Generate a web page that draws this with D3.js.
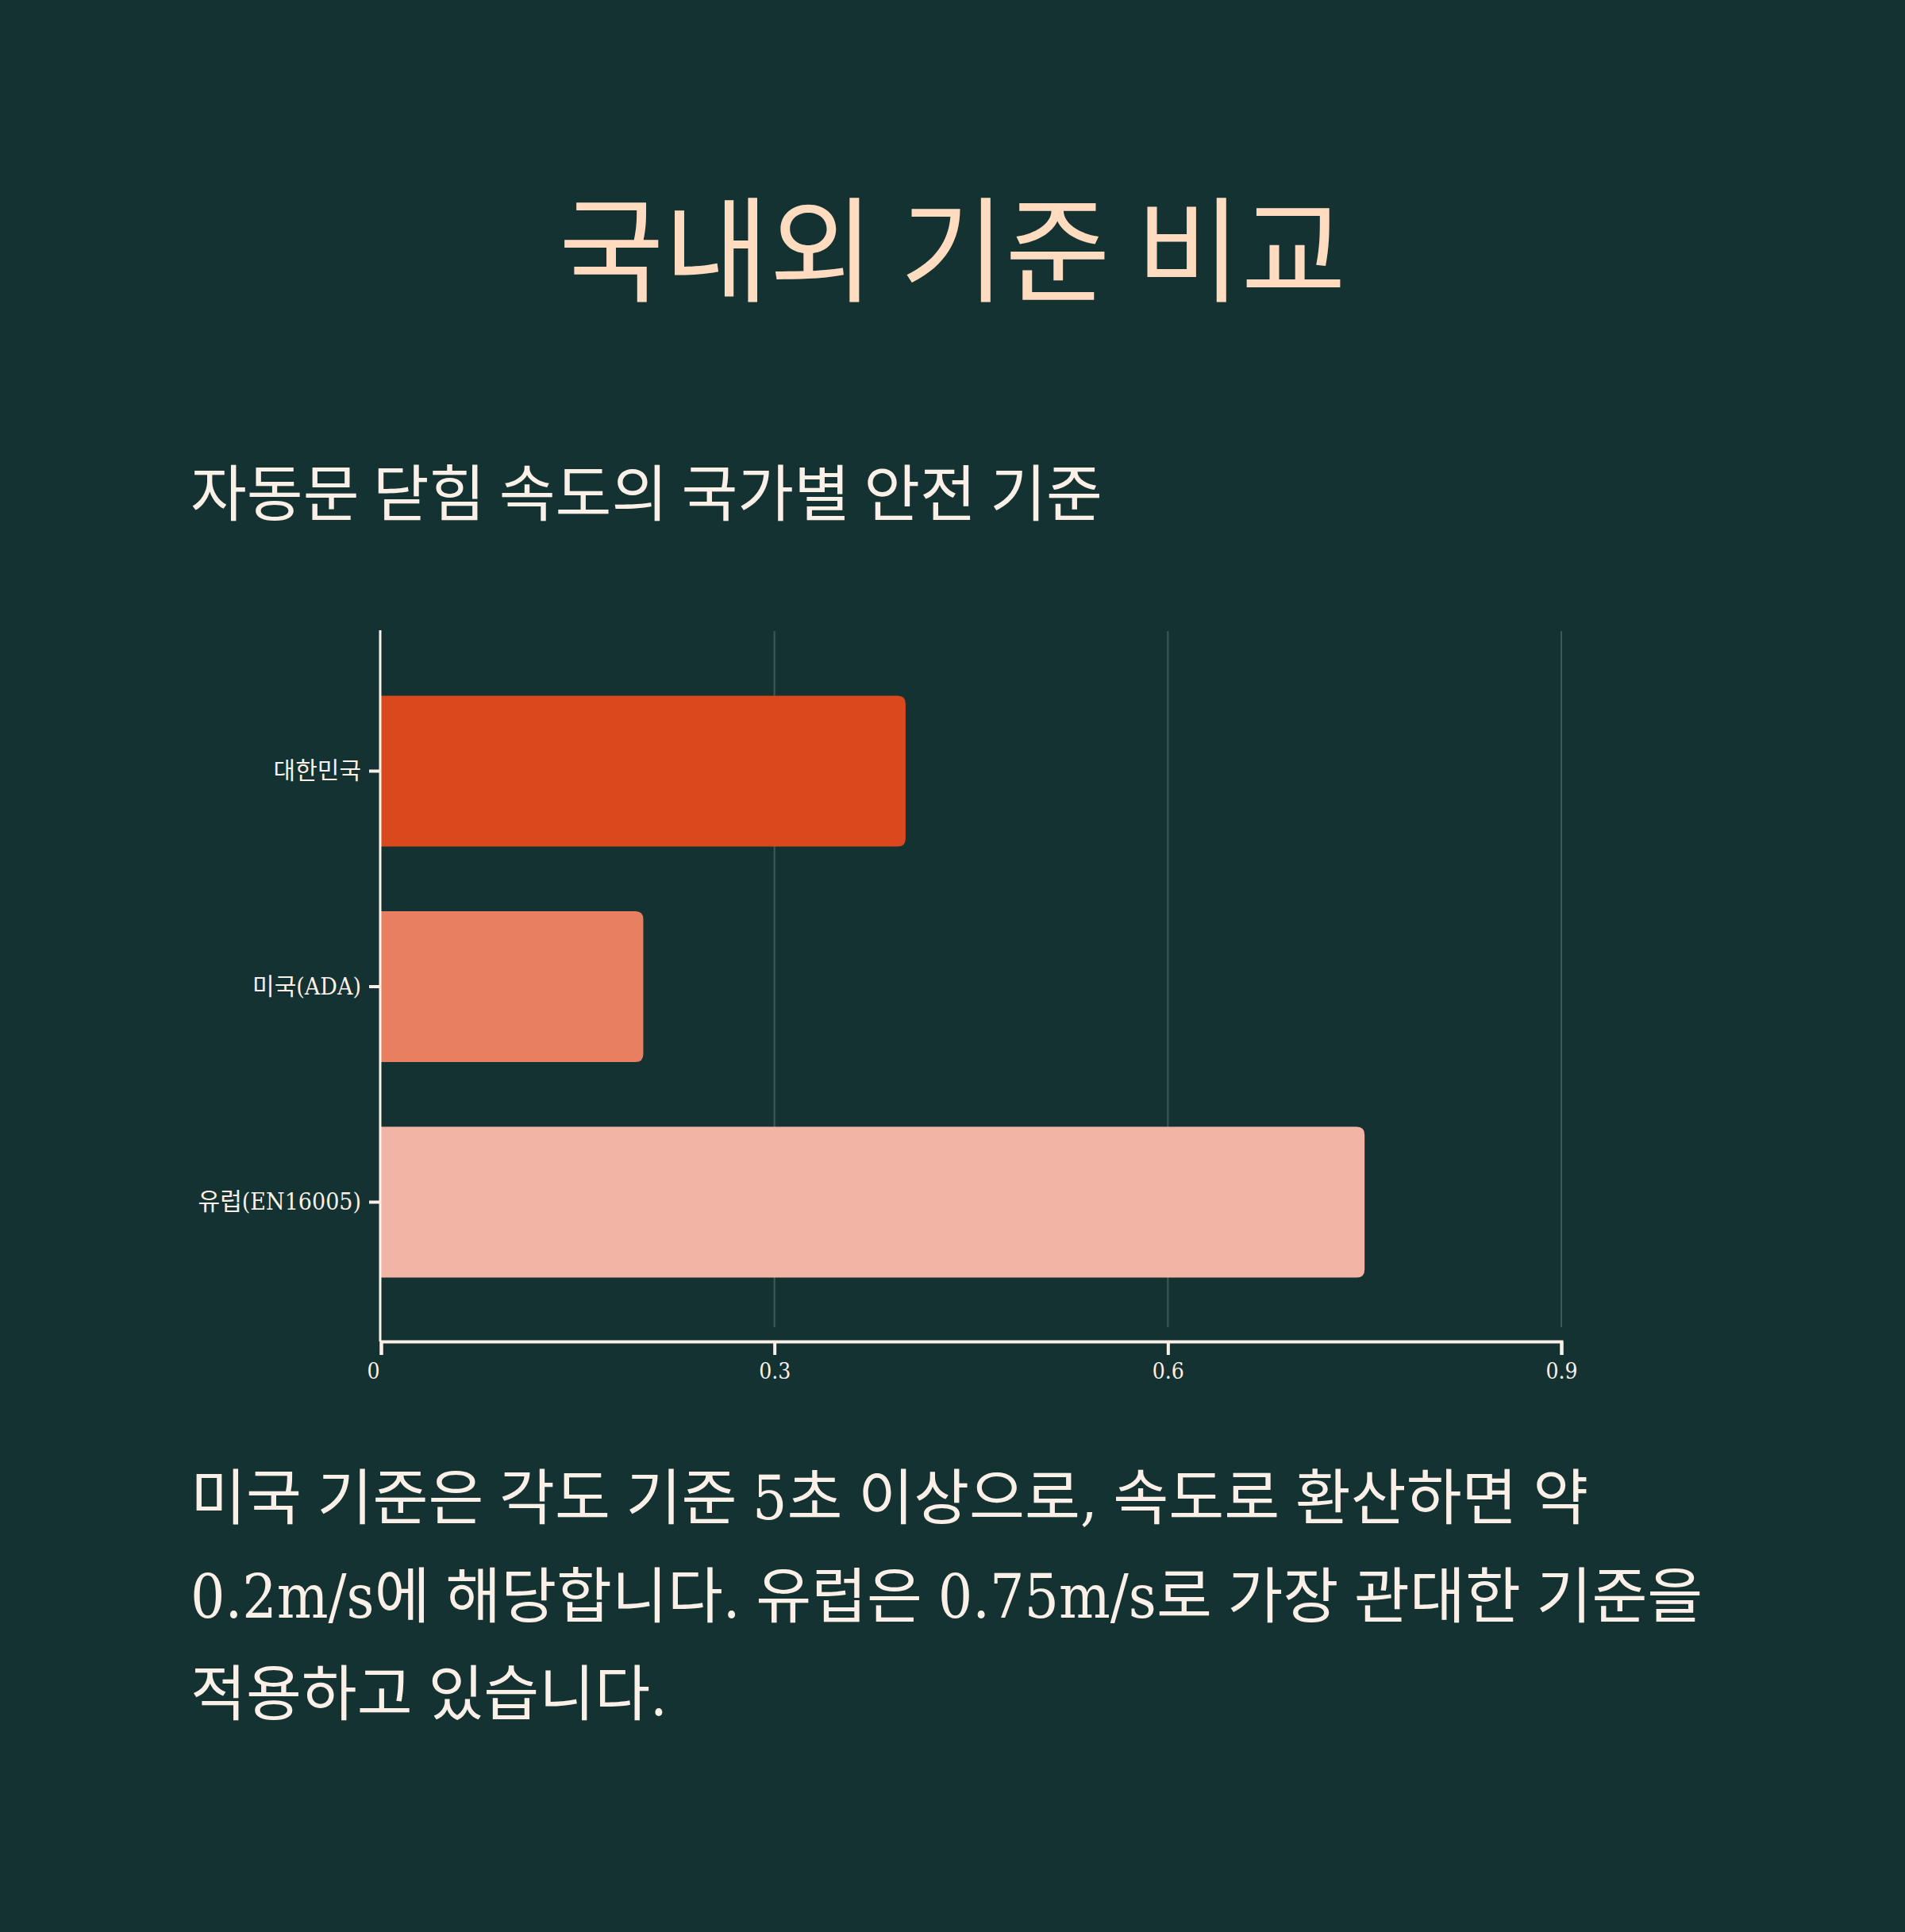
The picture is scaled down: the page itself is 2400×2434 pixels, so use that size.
<!DOCTYPE html>
<html>
<head>
<meta charset="utf-8">
<script src="https://cdn.jsdelivr.net/npm/d3@7"></script>
<style>
  html, body { margin: 0; padding: 0; background: #143231; }
  svg { display: block; }
</style>
</head>
<body>
<svg id="chart"></svg>
<script>
// chart values
const countries = ["대한민국", "미국(ADA)", "유럽(EN16005)"];
const speeds = [0.4, 0.2, 0.75];
const barColors = ["#DA491E", "#E97F61", "#F2B4A4"];
const xTicks = [0, 0.3, 0.6, 0.9];

const titleText = "국내외 기준 비교";
const subtitleText = "자동문 닫힘 속도의 국가별 안전 기준";
const noteLines = [
    "미국 기준은 각도 기준 5초 이상으로, 속도로 환산하면 약",
    "0.2m/s에 해당합니다. 유럽은 0.75m/s로 가장 관대한 기준을",
    "적용하고 있습니다."
];

const width = 2400, height = 2434;
const cream = "#FAF0E8";
const bodyFont = "'DejaVu Serif', 'Noto Sans CJK KR', serif";
const krFont = "'Noto Sans CJK KR', sans-serif";

const svg = d3.select("#chart")
    .attr("width", width)
    .attr("height", height);

svg.append("rect")
    .attr("width", width)
    .attr("height", height)
    .attr("fill", "#143231");

// title + subtitle
svg.append("text")
    .attr("x", width / 2)
    .attr("y", 369)
    .attr("text-anchor", "middle")
    .style("font-family", krFont)
    .style("font-size", "144px")
    .attr("fill", "#FFDBBF")
    .text(titleText);

svg.append("text")
    .attr("x", 240)
    .attr("y", 650)
    .style("font-family", krFont)
    .style("font-size", "77px")
    .attr("fill", cream)
    .text(subtitleText);

// scales
const x = d3.scaleLinear()
    .domain([0, 0.9])
    .range([480, 1967]);

const y = d3.scaleBand()
    .domain(countries)
    .range([795, 1691])
    .padding(0.3);

// grid lines
svg.append("g")
    .selectAll("line")
    .data(xTicks.filter(d => d > 0))
    .join("line")
    .attr("x1", d => x(d))
    .attr("x2", d => x(d))
    .attr("y1", 795)
    .attr("y2", 1672)
    .attr("stroke", "#3E5A58")
    .attr("stroke-width", 2);

// bars, right side rounded
function barPath(x0, x1, y0, h, r) {
    return "M" + x0 + "," + y0 +
        "H" + (x1 - r) +
        "Q" + x1 + "," + y0 + " " + x1 + "," + (y0 + r) +
        "V" + (y0 + h - r) +
        "Q" + x1 + "," + (y0 + h) + " " + (x1 - r) + "," + (y0 + h) +
        "H" + x0 + "Z";
}

svg.append("g")
    .selectAll("path")
    .data(countries)
    .join("path")
    .attr("d", (d, i) => barPath(x(0), x(speeds[i]), y(d), y.bandwidth(), 10))
    .attr("fill", (d, i) => barColors[i]);

// x axis
const xAxis = d3.axisBottom(x)
    .tickValues(xTicks)
    .tickSize(17)
    .tickPadding(10)
    .tickFormat(d => d === 0 ? "0" : d3.format(".1f")(d));

const xg = svg.append("g")
    .attr("transform", "translate(0,1690)")
    .call(xAxis);
xg.select(".domain").attr("stroke", cream).attr("stroke-width", 4);
xg.selectAll(".tick line").attr("stroke", cream).attr("stroke-width", 4);
xg.selectAll(".tick text")
    .attr("fill", cream)
    .style("font-family", bodyFont)
    .style("font-stretch", "condensed")
    .style("font-size", "28px");
// the zero label sits a little left of its tick
xg.selectAll(".tick text").filter(d => d === 0).attr("dx", -10);

// y axis
const yAxis = d3.axisLeft(y)
    .tickSize(14)
    .tickPadding(10);

const yg = svg.append("g")
    .attr("transform", "translate(479,0)")
    .call(yAxis);
yg.select(".domain")
    .attr("d", "M0,794V1690")
    .attr("stroke", cream)
    .attr("stroke-width", 3);
yg.selectAll(".tick line").attr("stroke", cream).attr("stroke-width", 4);
yg.selectAll(".tick text")
    .attr("fill", cream)
    .style("font-family", bodyFont)
    .style("font-stretch", "condensed")
    .style("font-size", "30px");

// note below the chart
svg.append("g")
    .selectAll("text")
    .data(noteLines)
    .join("text")
    .attr("x", 240)
    .attr("y", (d, i) => 1914 + i * 123.5)
    .style("font-family", bodyFont)
    .style("font-stretch", "condensed")
    .style("font-size", "76px")
    .style("word-spacing", "-2px")
    .attr("fill", cream)
    .text(d => d);
</script>
</body>
</html>
